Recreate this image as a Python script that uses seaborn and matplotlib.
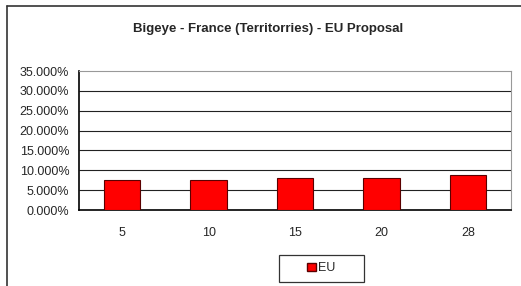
import matplotlib
matplotlib.use("Agg")
import matplotlib.pyplot as plt
from matplotlib.lines import Line2D
from matplotlib.patches import Patch
from matplotlib.ticker import FuncFormatter, MultipleLocator
import seaborn as sns
import pandas as pd

# Data
years = ["5", "10", "15", "20", "28"]
eu_share = [7.5, 7.5, 8.0, 8.0, 8.7]  # percent

sns.set_style("white")
plt.rcParams['font.family'] = ['Liberation Sans', 'DejaVu Sans']

df = pd.DataFrame({"year": years, "share": eu_share})

fig = plt.figure(figsize=(5.21, 2.86), dpi=100)
ax = fig.add_axes([0.1516, 0.2657, 0.8292, 0.486])

sns.barplot(data=df, x="year", y="share", color="#ff0000", width=0.42,
            edgecolor="#5a0000", linewidth=0.8, saturation=1, ax=ax, zorder=3)

ax.set_ylim(0, 35)
ax.set_xlim(-0.5, len(years) - 0.5)
ax.yaxis.set_major_locator(MultipleLocator(5))
ax.yaxis.set_major_formatter(FuncFormatter(lambda v, _: f"{v:.3f}%"))
# horizontal gridlines (top one is the grey plot-area border)
ax.hlines([5, 10, 15, 20, 25, 30], -0.5, len(years) - 0.5, color="#222222",
          linewidth=0.8, zorder=1)
ax.set_xlabel("")
ax.set_ylabel("")

# category boundary ticks on x, labels in the middle
ax.set_xticks([i - 0.5 for i in range(len(years) + 1)], minor=False)
ax.set_xticklabels([])
ax.set_xticks(range(len(years)), minor=True)
ax.set_xticklabels(years, minor=True)
ax.tick_params(axis="x", which="major", direction="out", length=3, width=0.8, color="black")
ax.tick_params(axis="x", which="minor", length=0, pad=12, labelsize=9)
ax.tick_params(axis="y", direction="out", length=4, width=0.8, color="black", labelsize=9, pad=3)

for s in ["left", "bottom"]:
    ax.spines[s].set_color("black")
    ax.spines[s].set_linewidth(1.2)
for s in ["right", "top"]:
    ax.spines[s].set_visible(True)
    ax.spines[s].set_color("#999999")
    ax.spines[s].set_linewidth(0.8)

fig.text(0.515, 0.9, "Bigeye - France (Territorries) - EU Proposal",
         ha="center", va="center", fontsize=9.5, fontweight="bold")

leg = fig.legend(handles=[Patch(facecolor="#ff0000", edgecolor="#5a0000", label="EU")],
                 loc="center", bbox_to_anchor=(0.617, 0.062), frameon=True,
                 fancybox=False, edgecolor="black", fontsize=9, handlelength=0.7,
                 handleheight=0.7, handletextpad=0.2, borderpad=0.6,
                 borderaxespad=0)
leg.get_frame().set_linewidth(0.9)
leg.get_frame().set_boxstyle("square", pad=0)
leg._legend_box.width = 70

# outer chart frame (top and left edges visible in the crop)
fig.add_artist(Line2D([0.0134, 1.0], [0.979, 0.979], color="#333333", linewidth=1.2,
                      transform=fig.transFigure))
fig.add_artist(Line2D([0.0134, 0.0134], [0.0, 0.979], color="#333333", linewidth=1.2,
                      transform=fig.transFigure))

fig.savefig("out.png", dpi=100)
